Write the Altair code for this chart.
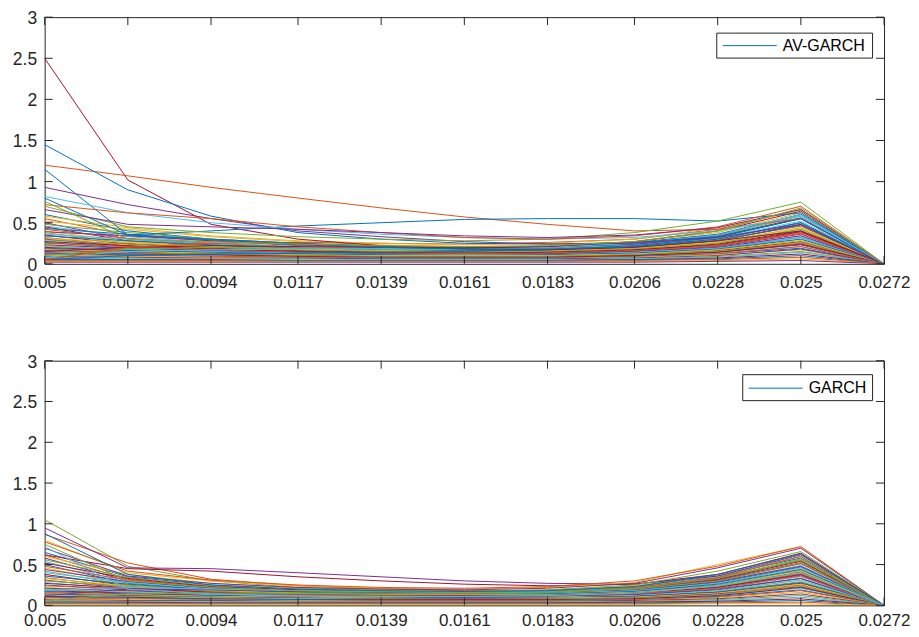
import altair as alt
import pandas as pd

# x positions (tick labels of the reference)
X = [0.005, 0.0072, 0.0094, 0.0117, 0.0139, 0.0161, 0.0183, 0.0206, 0.0228, 0.025, 0.0272]
Y_TICKS = [0, 0.5, 1, 1.5, 2, 2.5, 3]
MATLAB = ["#0072BD", "#D95319", "#EDB120", "#7E2F8E", "#77AC30", "#4DBEEE", "#A2142F"]

# ---- AV-GARCH panel: dense band ----
TOP_DENSE = [
    [0.60,0.40,0.30,0.25,0.22,0.20,0.21,0.26,0.36,0.60,0],
    [0.55,0.35,0.28,0.22,0.20,0.19,0.20,0.24,0.33,0.55,0],
    [0.52,0.42,0.33,0.27,0.23,0.21,0.22,0.27,0.38,0.62,0],
    [0.50,0.30,0.24,0.20,0.18,0.17,0.18,0.22,0.30,0.50,0],
    [0.48,0.38,0.30,0.24,0.21,0.19,0.19,0.23,0.34,0.58,0],
    [0.46,0.33,0.26,0.21,0.19,0.18,0.19,0.23,0.31,0.52,0],
    [0.45,0.28,0.22,0.19,0.17,0.16,0.17,0.20,0.28,0.48,0],
    [0.43,0.36,0.29,0.24,0.21,0.20,0.21,0.25,0.35,0.60,0],
    [0.42,0.31,0.25,0.20,0.18,0.17,0.18,0.21,0.29,0.46,0],
    [0.40,0.27,0.21,0.18,0.16,0.15,0.16,0.19,0.27,0.44,0],
    [0.39,0.34,0.28,0.23,0.20,0.19,0.20,0.24,0.33,0.56,0],
    [0.38,0.25,0.20,0.17,0.15,0.14,0.15,0.18,0.25,0.42,0],
    [0.36,0.30,0.24,0.20,0.18,0.17,0.17,0.21,0.30,0.50,0],
    [0.35,0.24,0.19,0.16,0.14,0.13,0.14,0.17,0.24,0.40,0],
    [0.34,0.28,0.23,0.19,0.17,0.16,0.17,0.20,0.28,0.47,0],
    [0.32,0.22,0.18,0.15,0.13,0.12,0.13,0.16,0.22,0.38,0],
    [0.31,0.26,0.21,0.18,0.16,0.15,0.15,0.19,0.26,0.44,0],
    [0.30,0.21,0.17,0.14,0.12,0.12,0.12,0.15,0.21,0.36,0],
    [0.29,0.24,0.20,0.17,0.15,0.14,0.15,0.18,0.25,0.42,0],
    [0.28,0.20,0.16,0.13,0.12,0.11,0.12,0.14,0.20,0.34,0],
    [0.27,0.22,0.18,0.15,0.14,0.13,0.14,0.17,0.23,0.39,0],
    [0.26,0.19,0.15,0.13,0.11,0.10,0.11,0.13,0.19,0.32,0],
    [0.25,0.21,0.17,0.14,0.13,0.12,0.13,0.16,0.22,0.37,0],
    [0.24,0.18,0.14,0.12,0.10,0.10,0.10,0.12,0.18,0.30,0],
    [0.23,0.19,0.16,0.13,0.12,0.11,0.12,0.15,0.20,0.34,0],
    [0.22,0.17,0.13,0.11,0.10,0.09,0.10,0.12,0.17,0.28,0],
    [0.21,0.18,0.15,0.13,0.11,0.11,0.11,0.14,0.19,0.32,0],
    [0.20,0.16,0.13,0.11,0.09,0.09,0.09,0.11,0.16,0.27,0],
    [0.19,0.16,0.14,0.12,0.11,0.10,0.11,0.13,0.18,0.30,0],
    [0.18,0.15,0.12,0.10,0.09,0.08,0.09,0.11,0.15,0.25,0],
    [0.17,0.15,0.13,0.11,0.10,0.10,0.10,0.12,0.17,0.28,0],
    [0.16,0.14,0.11,0.10,0.08,0.08,0.08,0.10,0.14,0.23,0],
    [0.15,0.13,0.12,0.10,0.09,0.09,0.09,0.11,0.15,0.26,0],
    [0.14,0.12,0.10,0.09,0.08,0.07,0.08,0.09,0.13,0.21,0],
    [0.13,0.12,0.11,0.09,0.08,0.08,0.08,0.10,0.14,0.24,0],
    [0.12,0.11,0.09,0.08,0.07,0.07,0.07,0.09,0.12,0.19,0],
    [0.11,0.10,0.09,0.08,0.07,0.07,0.07,0.08,0.12,0.21,0],
    [0.10,0.09,0.08,0.07,0.06,0.06,0.06,0.08,0.11,0.17,0],
    [0.09,0.08,0.07,0.07,0.06,0.06,0.06,0.07,0.10,0.18,0],
    [0.08,0.07,0.06,0.06,0.05,0.05,0.05,0.06,0.09,0.15,0],
    [0.07,0.06,0.06,0.05,0.05,0.05,0.05,0.06,0.08,0.14,0],
    [0.06,0.05,0.05,0.04,0.04,0.04,0.04,0.05,0.07,0.12,0],
    [0.05,0.05,0.04,0.04,0.04,0.04,0.04,0.05,0.06,0.10,0],
    [0.04,0.04,0.04,0.03,0.03,0.03,0.03,0.04,0.05,0.08,0],
    [0.03,0.03,0.03,0.03,0.03,0.03,0.03,0.03,0.04,0.06,0],
    [0.02,0.02,0.02,0.02,0.02,0.02,0.02,0.02,0.03,0.04,0],
    [0.10,0.18,0.20,0.19,0.18,0.17,0.18,0.22,0.30,0.50,0],
    [0.08,0.15,0.17,0.18,0.18,0.18,0.20,0.25,0.35,0.60,0],
    [0.15,0.20,0.22,0.21,0.20,0.19,0.21,0.27,0.40,0.64,0],
    [0.05,0.10,0.12,0.13,0.14,0.15,0.17,0.22,0.32,0.55,0],
    [0.05,0.20,0.25,0.26,0.25,0.24,0.26,0.30,0.42,0.66,0],
    [0.58,0.44,0.34,0.28,0.25,0.23,0.25,0.30,0.44,0.65,0],
]
# ---- AV-GARCH panel: outlying lines (colour index, values) ----
TOP_SPECIAL_COLOR = [6, 1, 0, 0, 3, 0, 4, 5, 1, 3, 4]
TOP_SPECIAL = [
    [2.50,1.02,0.48,0.30,0.22,0.18,0.17,0.20,0.28,0.40,0],
    [1.20,1.07,0.93,0.80,0.68,0.57,0.48,0.40,0.42,0.55,0],
    [1.45,0.90,0.58,0.38,0.30,0.25,0.24,0.26,0.33,0.55,0],
    [1.15,0.35,0.30,0.25,0.20,0.18,0.18,0.21,0.30,0.50,0],
    [0.93,0.72,0.55,0.40,0.33,0.27,0.24,0.25,0.32,0.48,0],
    [0.80,0.35,0.40,0.46,0.50,0.54,0.55,0.55,0.52,0.62,0],
    [0.70,0.45,0.38,0.33,0.30,0.28,0.30,0.38,0.52,0.75,0],
    [0.82,0.62,0.50,0.42,0.36,0.32,0.30,0.32,0.40,0.58,0],
    [0.72,0.62,0.55,0.45,0.38,0.32,0.30,0.34,0.45,0.70,0],
    [0.66,0.48,0.45,0.42,0.38,0.34,0.32,0.35,0.44,0.66,0],
    [0.76,0.30,0.27,0.24,0.22,0.21,0.22,0.27,0.40,0.68,0],
]

# ---- GARCH panel: dense band ----
BOT_DENSE = [
    [0.65,0.35,0.25,0.20,0.18,0.17,0.18,0.23,0.36,0.58,0],
    [0.62,0.32,0.22,0.18,0.16,0.16,0.17,0.22,0.34,0.55,0],
    [0.60,0.38,0.27,0.21,0.19,0.18,0.19,0.24,0.37,0.60,0],
    [0.58,0.30,0.21,0.17,0.15,0.15,0.16,0.20,0.31,0.52,0],
    [0.56,0.34,0.24,0.19,0.17,0.16,0.17,0.21,0.33,0.56,0],
    [0.54,0.28,0.20,0.16,0.15,0.14,0.15,0.19,0.29,0.49,0],
    [0.52,0.33,0.23,0.19,0.17,0.16,0.17,0.21,0.32,0.54,0],
    [0.50,0.27,0.19,0.16,0.14,0.14,0.15,0.18,0.28,0.47,0],
    [0.48,0.31,0.22,0.18,0.16,0.15,0.16,0.20,0.30,0.51,0],
    [0.46,0.26,0.18,0.15,0.14,0.13,0.14,0.17,0.27,0.45,0],
    [0.44,0.29,0.21,0.17,0.15,0.15,0.15,0.19,0.29,0.48,0],
    [0.42,0.25,0.18,0.15,0.13,0.13,0.13,0.17,0.25,0.43,0],
    [0.40,0.28,0.20,0.16,0.15,0.14,0.15,0.18,0.27,0.46,0],
    [0.38,0.24,0.17,0.14,0.13,0.12,0.13,0.16,0.24,0.41,0],
    [0.36,0.26,0.19,0.16,0.14,0.13,0.14,0.17,0.26,0.44,0],
    [0.34,0.22,0.16,0.13,0.12,0.12,0.12,0.15,0.23,0.39,0],
    [0.33,0.24,0.18,0.15,0.13,0.13,0.13,0.16,0.24,0.42,0],
    [0.31,0.21,0.16,0.13,0.12,0.11,0.12,0.14,0.22,0.37,0],
    [0.30,0.23,0.17,0.14,0.13,0.12,0.13,0.15,0.23,0.40,0],
    [0.28,0.20,0.15,0.12,0.11,0.11,0.11,0.14,0.21,0.35,0],
    [0.27,0.21,0.16,0.13,0.12,0.12,0.12,0.15,0.22,0.38,0],
    [0.25,0.19,0.14,0.12,0.11,0.10,0.11,0.13,0.20,0.33,0],
    [0.24,0.20,0.15,0.13,0.12,0.11,0.12,0.14,0.21,0.36,0],
    [0.22,0.17,0.13,0.11,0.10,0.10,0.10,0.12,0.18,0.31,0],
    [0.21,0.18,0.14,0.12,0.11,0.10,0.11,0.13,0.19,0.33,0],
    [0.20,0.16,0.12,0.10,0.09,0.09,0.09,0.11,0.17,0.29,0],
    [0.19,0.16,0.13,0.11,0.10,0.10,0.10,0.12,0.18,0.31,0],
    [0.18,0.15,0.12,0.10,0.09,0.09,0.09,0.11,0.16,0.27,0],
    [0.17,0.14,0.12,0.10,0.09,0.09,0.09,0.11,0.16,0.28,0],
    [0.16,0.13,0.11,0.09,0.08,0.08,0.08,0.10,0.15,0.25,0],
    [0.15,0.13,0.11,0.10,0.09,0.08,0.09,0.10,0.15,0.26,0],
    [0.14,0.12,0.10,0.09,0.08,0.08,0.08,0.09,0.14,0.23,0],
    [0.13,0.11,0.10,0.08,0.08,0.07,0.08,0.09,0.13,0.24,0],
    [0.12,0.10,0.09,0.08,0.07,0.07,0.07,0.08,0.12,0.21,0],
    [0.11,0.10,0.08,0.07,0.07,0.07,0.07,0.08,0.12,0.22,0],
    [0.10,0.09,0.08,0.07,0.06,0.06,0.06,0.07,0.11,0.19,0],
    [0.09,0.08,0.07,0.06,0.06,0.06,0.06,0.07,0.10,0.18,0],
    [0.08,0.07,0.06,0.06,0.05,0.05,0.05,0.06,0.09,0.16,0],
    [0.07,0.06,0.06,0.05,0.05,0.05,0.05,0.06,0.08,0.14,0],
    [0.06,0.05,0.05,0.04,0.04,0.04,0.04,0.05,0.07,0.12,0],
    [0.05,0.04,0.04,0.04,0.04,0.04,0.04,0.04,0.06,0.10,0],
    [0.04,0.04,0.03,0.03,0.03,0.03,0.03,0.04,0.05,0.08,0],
    [0.03,0.03,0.03,0.03,0.03,0.03,0.03,0.03,0.04,0.06,0],
    [0.02,0.02,0.02,0.02,0.02,0.02,0.02,0.02,0.03,0.04,0],
    [0.01,0.01,0.01,0.01,0.01,0.01,0.01,0.01,0.02,0.02,0],
    [0.12,0.20,0.19,0.17,0.16,0.15,0.16,0.20,0.31,0.52,0],
    [0.06,0.14,0.15,0.15,0.15,0.15,0.16,0.21,0.33,0.57,0],
    [0.18,0.22,0.20,0.18,0.17,0.16,0.17,0.22,0.35,0.60,0],
]
BOT_SPECIAL_COLOR = [4, 1, 3, 6, 2, 1, 3, 4, 0, 5]
BOT_SPECIAL = [
    [1.05,0.48,0.30,0.22,0.18,0.16,0.16,0.20,0.30,0.52,0],
    [0.87,0.52,0.32,0.24,0.20,0.18,0.18,0.22,0.34,0.60,0],
    [0.95,0.46,0.45,0.40,0.35,0.30,0.27,0.26,0.36,0.62,0],
    [0.62,0.45,0.42,0.35,0.30,0.26,0.24,0.26,0.38,0.64,0],
    [0.80,0.40,0.30,0.24,0.21,0.20,0.22,0.28,0.50,0.72,0],
    [0.78,0.42,0.31,0.25,0.22,0.21,0.23,0.30,0.48,0.72,0],
    [0.70,0.36,0.27,0.22,0.20,0.19,0.21,0.27,0.46,0.70,0],
    [0.75,0.30,0.22,0.18,0.17,0.17,0.19,0.25,0.42,0.66,0],
    [0.88,0.38,0.25,0.20,0.18,0.17,0.18,0.23,0.38,0.63,0],
    [0.72,0.20,0.14,0.12,0.11,0.11,0.12,0.15,0.24,0.40,0],
]

W = 840.5
H_TOP, H_BOT = 247, 245
INK = "#262626"
FONT = "Liberation Sans"
TICK = 8


def long_table(dense, special, special_colors):
    rows = []
    k = 0
    for i, vals in enumerate(dense):
        for x, v in zip(X, vals):
            rows.append({"x": x, "y": v, "id": k, "c": i % 7})
        k += 1
    for c, vals in zip(special_colors, special):
        for x, v in zip(X, vals):
            rows.append({"x": x, "y": v, "id": k, "c": c})
        k += 1
    return pd.DataFrame(rows)


xs = alt.Scale(domain=[0.005, 0.0272], nice=False, zero=False)
ys = alt.Scale(domain=[0, 3], nice=False, zero=False)


def x_axis(pad):
    return alt.Axis(values=X, format=".4~f", ticks=False, domain=False, grid=False,
                    labelPadding=pad, labelFontSize=17, labelColor=INK, labelFont=FONT,
                    labelFlush=False, labelOverlap=False, title=None)


yax = alt.Axis(values=Y_TICKS, format=".1~f", ticks=False, domain=False, grid=False,
               labelPadding=8, labelFontSize=17.5, labelColor=INK, labelFont=FONT,
               labelFlush=False, labelOverlap=False, labelOffset=1.5, title=None)


def panel(df, label, box, line, text_x, xpad, h):
    xax = x_axis(xpad)
    lines = alt.Chart(df).mark_line(strokeWidth=1, clip=True).encode(
        x=alt.X("x:Q", scale=xs, axis=xax),
        y=alt.Y("y:Q", scale=ys, axis=yax),
        color=alt.Color("c:N", scale=alt.Scale(domain=list(range(7)), range=MATLAB), legend=None),
        detail="id:N",
    )
    xt = pd.DataFrame({"x": X})
    yt = pd.DataFrame({"y": Y_TICKS})
    tb = alt.Chart(xt).mark_rule(color=INK, strokeWidth=1).encode(
        x=alt.X("x:Q", scale=xs, axis=xax), y=alt.value(h), y2=alt.value(h - TICK))
    tt = alt.Chart(xt).mark_rule(color=INK, strokeWidth=1).encode(
        x=alt.X("x:Q", scale=xs, axis=xax), y=alt.value(0), y2=alt.value(TICK))
    tl = alt.Chart(yt).mark_rule(color=INK, strokeWidth=1).encode(
        y=alt.Y("y:Q", scale=ys, axis=yax), x=alt.value(0), x2=alt.value(TICK))
    tr = alt.Chart(yt).mark_rule(color=INK, strokeWidth=1).encode(
        y=alt.Y("y:Q", scale=ys, axis=yax), x=alt.value(W - TICK), x2=alt.value(W))
    lg = pd.DataFrame({"t": [label]})
    lbox = alt.Chart(lg).mark_rect(fill="white", stroke=INK, strokeWidth=1).encode(
        x=alt.value(box[0]), x2=alt.value(box[1]), y=alt.value(box[2]), y2=alt.value(box[3]))
    lline = alt.Chart(lg).mark_rule(stroke=MATLAB[0], strokeWidth=1).encode(
        x=alt.value(line[0]), x2=alt.value(line[1]), y=alt.value(line[2]))
    ltext = alt.Chart(lg).mark_text(align="left", baseline="middle", fontSize=16,
                                    font=FONT, color="#000000").encode(
        x=alt.value(text_x), y=alt.value(line[2]), text="t:N")
    return alt.layer(lines, tb, tt, tl, tr, lbox, lline, ltext).properties(width=W, height=h)


top = panel(long_table(TOP_DENSE, TOP_SPECIAL, TOP_SPECIAL_COLOR), "AV-GARCH",
            (673, 829, 16, 41), (679, 733, 28.5), 739, 10.7, H_TOP)
bot = panel(long_table(BOT_DENSE, BOT_SPECIAL, BOT_SPECIAL_COLOR), "GARCH",
            (699, 829, 14, 40), (705, 759, 27.5), 765, 7, H_BOT)

chart = alt.vconcat(top, bot, spacing=61).properties(
    padding={"left": 3.7, "top": 0.75, "right": 0, "bottom": 0}
).configure_view(stroke=INK, strokeWidth=1)

chart.save("out.html", embed_options={"renderer": "svg", "actions": False})
